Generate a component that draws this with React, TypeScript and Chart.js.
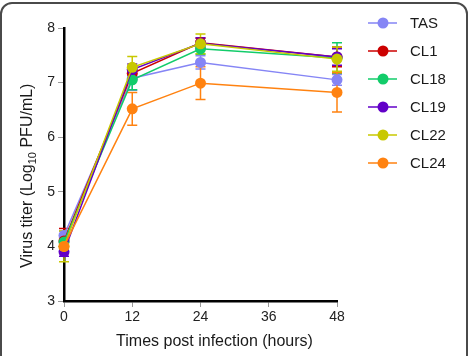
import React, { useEffect, useRef } from "react";
import { Chart, registerables } from "chart.js";

Chart.register(...registerables);

// Sampling times (hours post infection)
const hours = [0, 12, 24, 48];

const seriesNames = ["TAS", "CL1", "CL18", "CL19", "CL22", "CL24"];
const seriesColors = ["#8585F5", "#CC0000", "#12CC6A", "#6200C8", "#C8C800", "#FF8210"];

// Mean virus titers (log10 PFU/mL)
const tasMean = [4.2, 7.08, 7.37, 7.05];
const cl1Mean = [4.1, 7.17, 7.73, 7.47];
const cl18Mean = [4.08, 7.05, 7.62, 7.45];
const cl19Mean = [3.9, 7.24, 7.72, 7.47];
const cl22Mean = [4.0, 7.28, 7.71, 7.43];
const cl24Mean = [4.0, 6.52, 6.99, 6.82];

// Standard deviations
const tasSd = [0.08, 0.22, 0.12, 0.1];
const cl1Sd = [0.23, 0.12, 0.08, 0.18];
const cl18Sd = [0.1, 0.18, 0.1, 0.28];
const cl19Sd = [0.08, 0.1, 0.1, 0.15];
const cl22Sd = [0.28, 0.2, 0.18, 0.22];
const cl24Sd = [0.08, 0.3, 0.3, 0.36];

const xTicks = [0, 12, 24, 36, 48];
const yTicks = [3, 4, 5, 6, 7, 8];

const means = [tasMean, cl1Mean, cl18Mean, cl19Mean, cl22Mean, cl24Mean];
const sds = [tasSd, cl1Sd, cl18Sd, cl19Sd, cl22Sd, cl24Sd];

const FONT = "'Liberation Sans', Arial, Helvetica, sans-serif";

const errorBarPlugin = {
  id: "errorBars",
  beforeDatasetsDraw(chart: any) {
    const { ctx, scales } = chart;
    const xs = scales.x;
    const ys = scales.y;
    ctx.save();
    chart.data.datasets.forEach((ds: any, i: number) => {
      const sd = sds[i];
      ctx.strokeStyle = ds.borderColor;
      ctx.lineWidth = 1.5;
      ds.data.forEach((p: any, j: number) => {
        const x = xs.getPixelForValue(p.x);
        const top = ys.getPixelForValue(p.y + sd[j]);
        const bot = ys.getPixelForValue(p.y - sd[j]);
        ctx.beginPath();
        ctx.moveTo(x, top);
        ctx.lineTo(x, bot);
        ctx.moveTo(x - 5, top);
        ctx.lineTo(x + 5, top);
        ctx.moveTo(x - 5, bot);
        ctx.lineTo(x + 5, bot);
        ctx.stroke();
      });
    });
    ctx.restore();
  },
};

const annotationPlugin = {
  id: "annotations",
  afterDraw(chart: any) {
    const { ctx, chartArea } = chart;
    ctx.save();
    ctx.fillStyle = "#1a1a1a";
    ctx.textBaseline = "alphabetic";

    // x axis title
    ctx.font = `16px ${FONT}`;
    ctx.textAlign = "center";
    ctx.fillText("Times post infection (hours)", (chartArea.left + chartArea.right) / 2 + 14, 346);

    // y axis title with subscript
    ctx.translate(32, 268);
    ctx.rotate(-Math.PI / 2);
    ctx.textAlign = "left";
    const a = "Virus titer (Log";
    const b = "10";
    const c = " PFU/mL)";
    ctx.font = `16px ${FONT}`;
    ctx.fillText(a, 0, 0);
    let off = ctx.measureText(a).width;
    ctx.font = `11px ${FONT}`;
    ctx.fillText(b, off, 4);
    off += ctx.measureText(b).width;
    ctx.font = `16px ${FONT}`;
    ctx.fillText(c, off, 0);
    ctx.restore();

    // legend
    ctx.save();
    chart.data.datasets.forEach((ds: any, i: number) => {
      const y = 23 + i * 28;
      ctx.strokeStyle = ds.borderColor;
      ctx.lineWidth = 1.5;
      ctx.beginPath();
      ctx.moveTo(368, y);
      ctx.lineTo(397, y);
      ctx.stroke();
      ctx.fillStyle = ds.borderColor;
      ctx.beginPath();
      ctx.arc(383, y, 5.5, 0, Math.PI * 2);
      ctx.fill();
      ctx.fillStyle = "#1a1a1a";
      ctx.font = `15px ${FONT}`;
      ctx.textAlign = "left";
      ctx.textBaseline = "middle";
      ctx.fillText(ds.label, 410, y + 1);
    });
    ctx.restore();
  },
};

export default function App() {
  const canvasRef = useRef<HTMLCanvasElement | null>(null);

  useEffect(() => {
    if (!canvasRef.current) return;
    const datasets = seriesNames.map((name, i) => ({
      label: name,
      data: hours.map((h, j) => ({ x: h, y: means[i][j] })),
      borderColor: seriesColors[i],
      backgroundColor: seriesColors[i],
      pointBackgroundColor: seriesColors[i],
      pointBorderWidth: 0,
      pointRadius: 5.5,
      borderWidth: 1.5,
      tension: 0,
      clip: false as any,
      order: seriesNames.length - i,
    }));

    const chart = new Chart(canvasRef.current, {
      type: "line",
      data: { datasets },
      options: {
        responsive: false,
        animation: false,
        events: [],
        layout: { padding: { left: 0, right: 134, top: 28, bottom: 0 } },
        plugins: { legend: { display: false }, tooltip: { enabled: false } },
        scales: {
          x: {
            type: "linear",
            min: 0,
            max: 48,
            afterFit: (s: any) => {
              s.height = 55;
            },
            afterBuildTicks: (s: any) => {
              s.ticks = xTicks.map((v) => ({ value: v }));
            },
            border: { color: "#000", width: 2.5 },
            grid: { drawOnChartArea: false, drawTicks: true, tickLength: 6, color: "#999", lineWidth: 1 },
            ticks: { font: { family: FONT, size: 14 }, color: "#222", padding: 2 },
          },
          y: {
            type: "linear",
            min: 3,
            max: 8,
            afterFit: (s: any) => {
              s.width = 64;
            },
            afterBuildTicks: (s: any) => {
              s.ticks = yTicks.map((v) => ({ value: v }));
            },
            border: { color: "#000", width: 2.5 },
            grid: { drawOnChartArea: false, drawTicks: true, tickLength: 6, color: "#999", lineWidth: 1 },
            ticks: { font: { family: FONT, size: 14 }, color: "#222", padding: 3 },
          },
        },
      },
      plugins: [errorBarPlugin, annotationPlugin],
    });
    return () => chart.destroy();
  }, []);

  return (
    <div style={{ position: "fixed", left: 0, top: 0, width: 471, height: 356, overflow: "hidden", background: "#fff" }}>
      <canvas ref={canvasRef} width={471} height={356} style={{ position: "absolute", left: 0, top: 0 }} />
      <div
        style={{
          position: "absolute",
          left: 0,
          top: 2,
          width: 464,
          height: 380,
          border: "2px solid #4a4a4a",
          borderRadius: 12,
          pointerEvents: "none",
        }}
      />
    </div>
  );
}
